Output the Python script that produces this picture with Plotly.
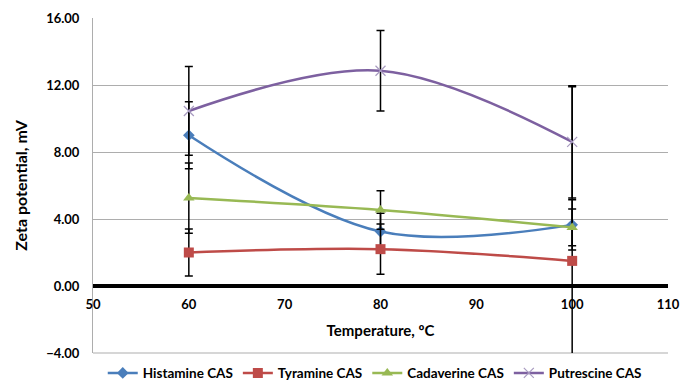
import plotly.graph_objects as go

temperature = [60, 80, 100]

histamine = [9.0, 3.25, 3.65]
histamine_err = [2.0, 1.1, 1.5]
tyramine = [2.0, 2.2, 1.5]
tyramine_err = [1.4, 1.5, 10.4]
cadaverine = [5.25, 4.54, 3.5]
cadaverine_err = [2.1, 1.15, 1.1]
putrescine = [10.45, 12.85, 8.6]
putrescine_err = [2.65, 2.4, 3.35]

series = [
    ("Histamine CAS", histamine, histamine_err, "#4A7EBB", "diamond", 9),
    ("Tyramine CAS", tyramine, tyramine_err, "#BE4B48", "square", 10),
    ("Cadaverine CAS", cadaverine, cadaverine_err, "#98B954", "triangle-up", 10),
    ("Putrescine CAS", putrescine, putrescine_err, "#7D60A0", "x-thin", 10),
]

font_family = "Lato, Liberation Sans, sans-serif"

fig = go.Figure()
for name, vals, errs, color, sym, size in series:
    marker = dict(symbol=sym, size=size, color=color)
    if sym == "x-thin":
        marker = dict(symbol=sym, size=size, color="#A89BC0",
                      line=dict(color="#A89BC0", width=1.2))
    fig.add_trace(go.Scatter(
        x=temperature, y=vals, name=name, mode="lines+markers",
        line=dict(color=color, width=2.5, shape="spline", smoothing=1.0),
        marker=marker,
        error_y=dict(type="data", array=errs, visible=True,
                     color="black", thickness=1.5, width=4),
        cliponaxis=True,
    ))

# bottom border of plot area (as in the reference)
fig.add_shape(type="line", xref="x domain", yref="y domain",
              x0=0, x1=1, y0=0, y1=0, line=dict(color="#ADADAD", width=1),
              layer="below")

fig.update_layout(
    width=681, height=380,
    margin=dict(l=93, r=13, t=18, b=27, autoexpand=False),
    paper_bgcolor="white", plot_bgcolor="white",
    font=dict(family=font_family, color="black"),
    showlegend=True,
    legend=dict(orientation="h", x=0.49, xanchor="center",
                yref="container", y=0.018, yanchor="middle",
                font=dict(size=13.5, family=font_family, weight="bold"),
                tracegroupgap=0),
    xaxis=dict(
        range=[50, 110], dtick=10, tick0=50,
        showgrid=False, zeroline=False, showline=False,
        anchor="free", position=0.2,
        ticks="outside", ticklen=6, tickcolor="rgba(0,0,0,0)",
        tickfont=dict(size=13, weight="bold"),
        title=dict(text="Temperature, ºC", font=dict(size=15, weight="bold"), standoff=14),
    ),
    yaxis=dict(
        range=[-4, 16], dtick=4, tick0=-4, tickformat=".2f",
        showgrid=True, gridcolor="#ADADAD", gridwidth=1,
        zeroline=True, zerolinecolor="black", zerolinewidth=4,
        showline=True, linecolor="#ADADAD", linewidth=1,
        ticks="outside", ticklen=10, tickcolor="rgba(0,0,0,0)",
        tickfont=dict(size=13, weight="bold"),
        title=dict(text="Zeta potential, mV", font=dict(size=16, weight="bold"), standoff=14),
    ),
)

fig.write_html("out.html")
